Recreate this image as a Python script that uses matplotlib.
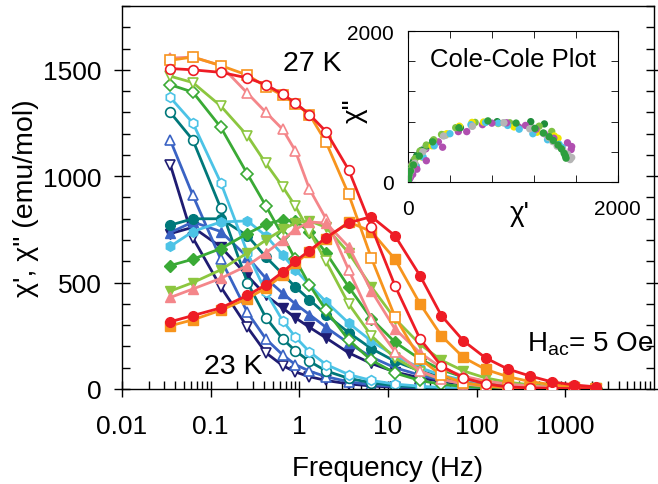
import numpy as np
import matplotlib
matplotlib.use('Agg')
import matplotlib.pyplot as plt
from matplotlib.ticker import MultipleLocator, LogLocator, NullFormatter, FixedLocator

plt.rcParams['font.family'] = ['Liberation Sans', 'DejaVu Sans']

# frequencies (Hz)
freq = [0.035, 0.063, 0.13, 0.26, 0.42, 0.65, 0.9, 1.3, 2.0, 3.6, 6.5, 12,
        23, 40, 71, 126, 224, 400, 710, 1260, 2230]

# chi' (in-phase) and chi'' (out-of-phase), emu/mol
chi1_23 = [1055, 710, 480, 290, 170, 110, 80, 58, 40, 24, 14, 8, 4, 3, 2, 1, 1, 0, 0, 0, 0]
chi2_23 = [730, 760, 668, 532, 440, 380, 335, 290, 240, 170, 120, 80, 52, 35, 22, 14, 9, 6, 4, 2, 1]
chi1_235 = [1170, 910, 610, 360, 235, 160, 115, 84, 58, 34, 20, 11, 6, 4, 2, 1, 1, 0, 0, 0, 0]
chi2_235 = [735, 785, 740, 620, 520, 450, 400, 350, 290, 215, 150, 100, 65, 42, 27, 17, 11, 7, 4, 2, 1]
chi1_24 = [1300, 1170, 850, 500, 335, 235, 180, 130, 85, 50, 29, 16, 9, 5, 3, 2, 1, 0, 0, 0, 0]
chi2_24 = [770, 800, 800, 720, 620, 540, 480, 420, 350, 265, 190, 130, 85, 55, 35, 22, 14, 9, 5, 3, 2]
chi1_245 = [1370, 1250, 970, 640, 455, 320, 245, 175, 115, 68, 40, 23, 13, 7, 4, 2, 1, 0, 0, 0, 0]
chi2_245 = [670, 740, 785, 790, 720, 630, 560, 490, 410, 310, 225, 155, 100, 65, 42, 27, 17, 11, 6, 4, 2]
chi1_25 = [1430, 1395, 1230, 1010, 860, 720, 610, 490, 370, 230, 135, 75, 40, 22, 12, 7, 4, 2, 1, 1, 0]
chi2_25 = [580, 610, 660, 730, 775, 795, 790, 740, 640, 480, 330, 220, 140, 90, 56, 35, 22, 14, 8, 5, 3]
chi1_255 = [1470, 1440, 1330, 1190, 1060, 950, 860, 740, 600, 400, 250, 145, 80, 45, 25, 14, 8, 4, 2, 1, 1]
chi2_255 = [460, 500, 560, 640, 700, 750, 780, 790, 760, 640, 480, 330, 210, 135, 85, 52, 32, 20, 12, 7, 4]
chi1_26 = [1555, 1560, 1520, 1390, 1300, 1220, 1120, 940, 800, 560, 330, 175, 85, 45, 24, 13, 7, 4, 2, 1, 1]
chi2_26 = [430, 470, 520, 580, 640, 700, 750, 785, 780, 668, 461, 282, 170, 100, 60, 37, 23, 14, 8, 5, 3]
chi1_265 = [1545, 1560, 1520, 1475, 1421, 1380, 1340, 1290, 1160, 915, 615, 339, 141, 65, 30, 14, 7, 4, 2, 1, 1]
chi2_265 = [297, 325, 370, 425, 475, 535, 590, 645, 705, 785, 740, 610, 400, 250, 148, 92, 58, 35, 20, 11, 6]
chi1_27 = [1506, 1500, 1488, 1462, 1430, 1385, 1345, 1290, 1210, 1030, 762, 485, 235, 108, 52, 24, 10, 5, 3, 2, 1]
chi2_27 = [316, 345, 381, 440, 490, 550, 600, 650, 711, 781, 810, 720, 532, 345, 226, 146, 94, 61, 33, 19, 10]

series = [
    (chi1_23, chi2_23, '#1f1c72', 'v'),
    (chi1_235, chi2_235, '#3a63c4', '^'),
    (chi1_24, chi2_24, '#00787a', 'o'),
    (chi1_245, chi2_245, '#4cc3e6', 'h'),
    (chi1_25, chi2_25, '#3aaa35', 'D'),
    (chi1_255, chi2_255, '#8cc63f', 'v'),
    (chi1_26, chi2_26, '#f4868a', '^'),
    (chi1_265, chi2_265, '#f7941d', 's'),
    (chi1_27, chi2_27, '#ee1c25', 'o'),
]
inset_colors = ['#b04fb0', '#b5b5b5', '#1e8c3a', '#7dc242', '#f2e600',
                '#4dc3e8', '#b04fb0', '#b5b5b5', '#2e9e3e']

fig = plt.figure(figsize=(6.58, 4.85), dpi=100)
ax = fig.add_axes([0.1854, 0.1959, 0.8085, 0.7897])

for i, (c1, c2, col, mk) in enumerate(series):
    z = 2 + i * 0.1
    ms = 6 if mk == 'D' else 7
    ax.plot(freq, c1, '-', color=col, lw=2, zorder=z)
    ax.plot(freq, c2, '-', color=col, lw=2, zorder=z)
    ax.plot(freq, c1, mk, ls='none', mfc='white', mec=col, mew=1.2, ms=ms, zorder=z + 0.05)
    ax.plot(freq, c2, mk, ls='none', mfc=col, mec=col, ms=ms, zorder=z + 0.05)

ax.set_xscale('log')
ax.set_xlim(0.01, 10000)
ax.set_ylim(0, 1800)
ax.xaxis.set_major_locator(FixedLocator([0.01, 0.1, 1, 10, 100, 1000]))
ax.xaxis.set_minor_locator(LogLocator(base=10, subs=np.arange(2, 10)))
ax.xaxis.set_minor_formatter(NullFormatter())
ax.set_xticklabels(['0.01', '0.1', '1', '10', '100', '1000'])
ax.yaxis.set_major_locator(FixedLocator([0, 500, 1000, 1500]))
ax.yaxis.set_minor_locator(MultipleLocator(100))
ax.tick_params(axis='both', which='major', direction='inout', length=11, width=1, labelsize=19)
ax.tick_params(axis='both', which='minor', direction='in', length=6, width=1)
ax.tick_params(axis='x', which='major', pad=12.5)
ax.tick_params(axis='y', which='major', pad=9)
ax.tick_params(axis='y', right=True, which='both')
for sp in ax.spines.values():
    sp.set_linewidth(1)
ax.set_xlabel('Frequency (Hz)', fontsize=20, labelpad=12)
ax.set_ylabel('χ\', χ" (emu/mol)', fontsize=20.5, labelpad=3)

ax.text(0.357, 0.85, '27 K', transform=ax.transAxes, fontsize=20.5, ha='center', va='center')
ax.text(0.21, 0.06, '23 K', transform=ax.transAxes, fontsize=20.5, ha='center', va='center')
ax.text(0.88, 0.12, r'H$_{\mathregular{ac}}$= 5 Oe', transform=ax.transAxes,
        fontsize=20, ha='center', va='center')

# Cole-Cole inset
axi = fig.add_axes([0.620, 0.6227, 0.319, 0.311])
for i, (c1, c2, col, mk) in enumerate(series):
    axi.scatter(c1, c2, s=28, color=inset_colors[i], edgecolors='none', zorder=3)
axi.set_xlim(0, 2000)
axi.set_ylim(0, 2000)
axi.xaxis.set_major_locator(FixedLocator([0, 2000]))
axi.yaxis.set_major_locator(FixedLocator([0, 2000]))
axi.xaxis.set_minor_locator(MultipleLocator(400))
axi.yaxis.set_minor_locator(MultipleLocator(400))
axi.tick_params(which='both', direction='in', top=True, right=True, length=5, labelsize=15)
axi.tick_params(axis='x', which='major', pad=12)
axi.tick_params(axis='y', which='major', pad=10)
axi.set_xlabel("χ'", fontsize=20)
axi.set_ylabel('χ"', fontsize=20)
axi.xaxis.set_label_coords(0.53, -0.12)
axi.yaxis.set_label_coords(-0.19, 0.48)
axi.text(0.5, 0.815, 'Cole-Cole Plot', transform=axi.transAxes, fontsize=18.5,
         ha='center', va='center')

fig.savefig('out.png', dpi=100)
